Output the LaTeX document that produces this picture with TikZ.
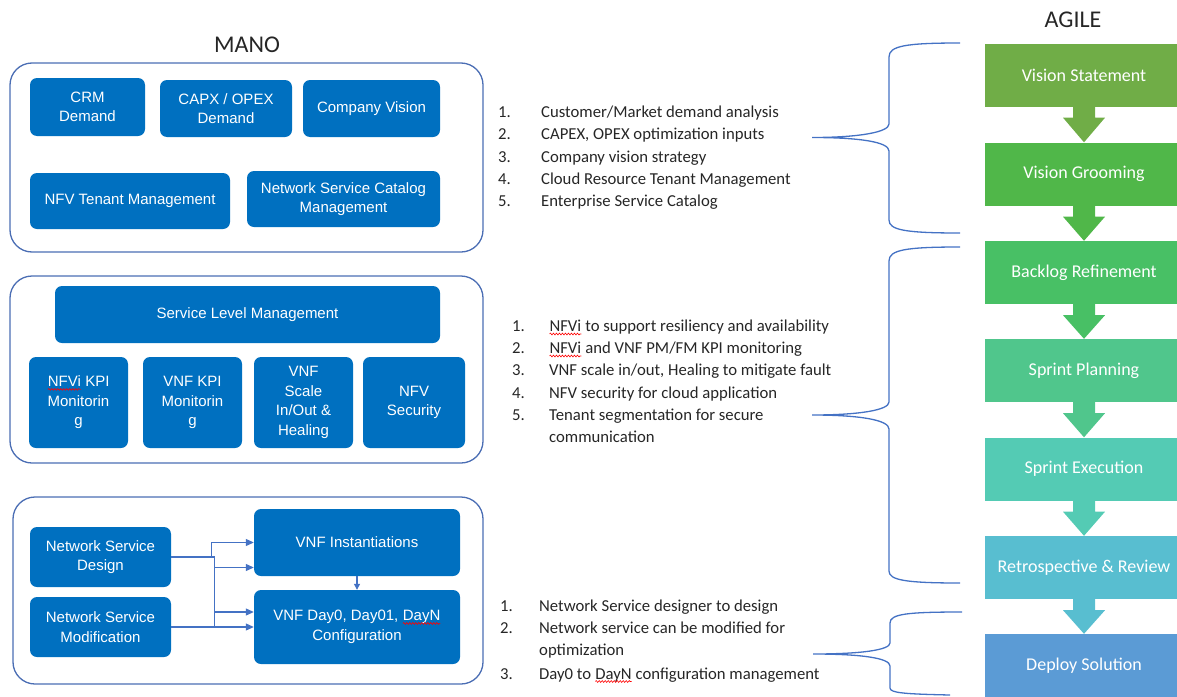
\documentclass[tikz,border=0pt]{standalone}
\usepackage{fontspec}
\setmainfont{Carlito}
\newfontfamily\arialf{Liberation Sans}
\usetikzlibrary{arrows.meta,calc,decorations.pathmorphing}

\definecolor{mblue}{RGB}{0,112,192}
\definecolor{grpline}{RGB}{75,110,180}
\definecolor{arrowblue}{RGB}{68,114,196}
\definecolor{braceblue}{RGB}{68,114,196}
\definecolor{textgray}{RGB}{38,38,38}
\definecolor{agA}{RGB}{112,173,71}
\definecolor{agB}{RGB}{80,183,73}
\definecolor{agC}{RGB}{72,192,101}
\definecolor{agD}{RGB}{80,198,140}
\definecolor{agE}{RGB}{84,203,180}
\definecolor{agF}{RGB}{88,190,208}
\definecolor{agG}{RGB}{91,155,213}

% red wavy spell-check underline
\newcommand\spellmark[1]{\tikz[baseline=(sw.base)]{%
  \node[shape=rectangle, inner sep=0pt, outer sep=0pt, minimum width=0pt, minimum height=0pt,
        fill=none, draw=none, rounded corners=0pt, anchor=center] (sw) {#1};
  \draw[red, fill=none, line width=0.6pt, rounded corners=0pt, decorate,
        decoration={snake,amplitude=0.9pt,segment length=3pt}]
    ([yshift=-2.5pt]sw.base west) -- ([yshift=-2.5pt]sw.base east);}}

% block arrow between two stacked agile steps
\newcommand\flowarrow[3]{%
  \fill[#3] ($(#1.south)+(-11,0)$) -- ++(0,11) -- ++(-10,0) -- (#2.north)
    -- ($(#1.south)+(21,11)$) -- ++(-10,0) -- ++(0,-11) -- cycle;}

\begin{document}
\begin{tikzpicture}[x=1pt,y=-1pt,
  wh/.style 2 args={minimum width=#1pt, minimum height=#2pt},
  mbox/.style={fill=mblue, rounded corners=7pt, text=white,
    font=\arialf\fontsize{15}{19.5}\selectfont, align=center, inner sep=0pt},
  grp/.style={draw=grpline, line width=1.3pt, rounded corners=22pt, fill=white},
  conn/.style={draw=arrowblue, line width=1.1pt, -{Triangle[length=8pt,width=7pt]}},
  abox/.style={fill=#1, text=white, font=\fontsize{18}{22}\selectfont,
    minimum width=198pt, minimum height=63pt, inner sep=0pt},
  brace/.style={draw=braceblue, line width=1.3pt},
  ltext/.style={anchor=base west, inner sep=0pt, font=\fontsize{16.7}{20}\selectfont, text=textgray},
  title/.style={font=\fontsize{24}{28}\selectfont, text=textgray, inner sep=0pt}
]
\useasboundingbox (0,0) rectangle (1177,696);

% ---------- MANO ----------
\node[title] (mano) at (247,45) {MANO};

% group 1
\node[grp, wh={473}{189}] (g1) at (246.5,157.5) {};
\node[mbox, wh={115}{58}] (crm) at (87.5,107) {CRM\\Demand};
\node[mbox, wh={132}{57}] (capx) at (226,108.5) {CAPX / OPEX\\Demand};
\node[mbox, wh={137}{57}] (cvis) at (371.5,108.5) {Company Vision};
\node[mbox, wh={200}{56}] (tenant) at (130,201) {NFV Tenant Management};
\node[mbox, wh={193}{56}] (catalog) at (343.5,199) {Network Service Catalog\\Management};

% group 2
\node[grp, wh={473}{187}] (g2) at (246.5,369.5) {};
\node[mbox, wh={385}{57}] (slm) at (247.5,314.5) {Service Level Management};
\node[mbox, wh={99}{91}] (nfvikpi) at (78.5,402.5) {\spellmark{NFVi} KPI\\Monitorin\\g};
\node[mbox, wh={99}{91}] (vnfkpi) at (192.5,402.5) {VNF KPI\\Monitorin\\g};
\node[mbox, wh={99}{91}] (scale) at (303.5,402.5) {VNF\\Scale\\In/Out \&\\Healing};
\node[mbox, wh={102}{91}] (sec) at (414,402.5) {NFV\\Security};

% group 3
\node[grp, wh={470}{187}] (g3) at (248,590.5) {};
\node[mbox, wh={141}{60}] (nsd) at (100.5,557) {Network Service\\Design};
\node[mbox, wh={141}{60}] (nsm) at (100.5,627) {Network Service\\Modification};
\node[mbox, wh={206}{67}] (inst) at (357,542.5) {VNF Instantiations};
\node[mbox, wh={206}{74}] (day0) at (357,627) {VNF Day0, Day01, \spellmark{DayN}\\Configuration};

\draw[conn] (nsd.east) -- ++(40,0) |- (inst.west);
\draw[conn] (nsd.east) -- ++(43,0) |- ($(day0.west)+(0,-15)$);
\draw[conn] (nsm.east) -- ++(43,0) |- ($(inst.west)+(0,25)$);
\draw[conn] (nsm.east) -- (day0.west);
\draw[draw=arrowblue, line width=1.1pt, -{Triangle[length=6pt,width=6pt]}] (inst.south) -- (day0.north);

% ---------- lists ----------
\node[ltext] (a1n) at (498,117.5) {1.};
\node[ltext] (a1t) at (541,117.5) {Customer/Market demand analysis};
\node[ltext] (a2n) at (498,139.8) {2.};
\node[ltext] (a2t) at (541,139.8) {CAPEX, OPEX optimization inputs};
\node[ltext] (a3n) at (498,162.1) {3.};
\node[ltext] (a3t) at (541,162.1) {Company vision strategy};
\node[ltext] (a4n) at (498,184.4) {4.};
\node[ltext] (a4t) at (541,184.4) {Cloud Resource Tenant Management};
\node[ltext] (a5n) at (498,206.7) {5.};
\node[ltext] (a5t) at (541,206.7) {Enterprise Service Catalog};

\node[ltext] (b1n) at (512,331.5) {1.};
\node[ltext] (b1t) at (549,331.5) {\spellmark{NFVi} to support resiliency and availability};
\node[ltext] (b2n) at (512,353.5) {2.};
\node[ltext] (b2t) at (549,353.5) {\spellmark{NFVi} and VNF PM/FM KPI monitoring};
\node[ltext] (b3n) at (512,375.5) {3.};
\node[ltext] (b3t) at (549,375.5) {VNF scale in/out, Healing to mitigate fault};
\node[ltext] (b4n) at (512,398) {4.};
\node[ltext] (b4t) at (549,398) {NFV security for cloud application};
\node[ltext] (b5n) at (512,420) {5.};
\node[ltext] (b5t) at (549,420) {Tenant segmentation for secure};
\node[ltext] (b6t) at (549,442) {communication};

\node[ltext] (c1n) at (500,611.5) {1.};
\node[ltext] (c1t) at (539,611.5) {Network Service designer to design};
\node[ltext] (c2n) at (500,633.5) {2.};
\node[ltext] (c2t) at (539,633.5) {Network service can be modified for};
\node[ltext] (c3t) at (539,655.5) {optimization};
\node[ltext] (c4n) at (500,679) {3.};
\node[ltext] (c4t) at (539,679) {Day0 to \spellmark{DayN} configuration management};

% ---------- braces ----------
\draw[brace] (960,43) .. controls (905,43) and (889,46) .. (889,57) -- (889,124)
  .. controls (889,132) and (860,137.5) .. (812,137.5)
  .. controls (860,137.5) and (889,142) .. (889,151) -- (889,220)
  .. controls (889,230) and (905,233) .. (960,233);
\draw[brace] (960,247) .. controls (905,247) and (889,250) .. (889,261) -- (889,402)
  .. controls (889,410) and (860,415) .. (812,415)
  .. controls (860,415) and (889,420) .. (889,429) -- (889,571)
  .. controls (889,580) and (905,583) .. (960,583);
\draw[brace] (962,612) .. controls (907,612) and (890,614) .. (890,623) -- (890,643)
  .. controls (890,650) and (861,654) .. (813,654)
  .. controls (861,654) and (890,658) .. (890,666) -- (890,688)
  .. controls (890,693) and (905,694) .. (950,695);

% ---------- AGILE ----------
\node[title] (agile) at (1073,20) {AGILE};
\node[abox=agA] (s1) at (1084,75) {Vision Statement};
\node[abox=agB] (s2) at (1084,174) {Vision Grooming};
\node[abox=agC] (s3) at (1084,272.5) {Backlog Refinement};
\node[abox=agD] (s4) at (1084,370.5) {Sprint Planning};
\node[abox=agE] (s5) at (1084,469) {Sprint Execution};
\node[abox=agF] (s6) at (1084,567.5) {Retrospective \& Review};
\node[abox=agG] (s7) at (1084,665.5) {Deploy Solution};

\flowarrow{s1}{s2}{agA}
\flowarrow{s2}{s3}{agB}
\flowarrow{s3}{s4}{agC}
\flowarrow{s4}{s5}{agD}
\flowarrow{s5}{s6}{agE}
\flowarrow{s6}{s7}{agF}
\end{tikzpicture}
\end{document}
